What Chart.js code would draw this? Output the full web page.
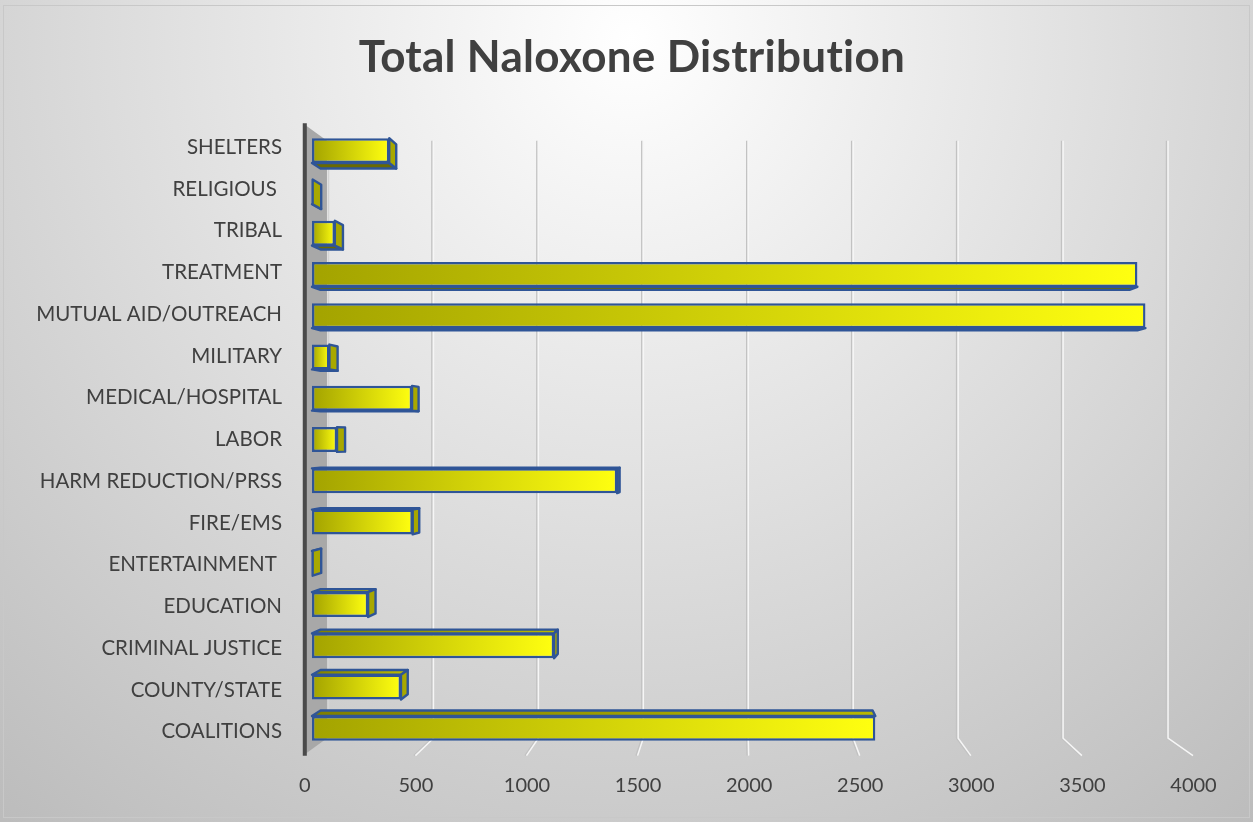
<!DOCTYPE html>
<html>
<head>
<meta charset="utf-8">
<title>Total Naloxone Distribution</title>
<script src="https://cdn.jsdelivr.net/npm/chart.js@4.4.1/dist/chart.umd.min.js"></script>
<style>
    html, body { margin: 0; padding: 0; background: #fff; }
    #wrap { width: 1253px; height: 822px; }
</style>
</head>
<body>
<div id="wrap"><canvas id="chart" width="1253" height="822"></canvas></div>
<script>
// ================= DATA =================
const categories = [
    "COALITIONS", "COUNTY/STATE", "CRIMINAL JUSTICE", "EDUCATION", "ENTERTAINMENT ",
    "FIRE/EMS", "HARM REDUCTION/PRSS", "LABOR", "MEDICAL/HOSPITAL", "MILITARY",
    "MUTUAL AID/OUTREACH", "TREATMENT", "TRIBAL", "RELIGIOUS ", "SHELTERS"
];
const distributed = [2590, 409, 1113, 258, 3, 463, 1403, 115, 460, 80, 3832, 3795, 105, 3, 355];
const xTicks = [0, 500, 1000, 1500, 2000, 2500, 3000, 3500, 4000];
const chartTitle = "Total Naloxone Distribution";

// ================= 3D LOOK =================
const CX = 740, CY = 440;      // vanishing centre
const FRONT = 1 / 0.979;       // bar plane -> front edge of floor
const BACK = 0.965;            // bar plane -> back wall
const BAR_DEPTH = 0.98;        // front face -> back face of a bar
const LABEL_K = 1.012;         // category labels spread a bit wider than the bars
const EDGE = "#2f5597";
const TEXT = "#404040";

const proj = (x, y, k) => [CX + (x - CX) * k, CY + (y - CY) * k];

function poly(ctx, pts, fill, stroke) {
    ctx.beginPath();
    ctx.moveTo(pts[0][0], pts[0][1]);
    pts.slice(1).forEach(p => ctx.lineTo(p[0], p[1]));
    ctx.closePath();
    if (fill) { ctx.fillStyle = fill; ctx.fill(); }
    if (stroke) { ctx.strokeStyle = stroke; ctx.lineWidth = 2.4; ctx.lineJoin = "round"; ctx.stroke(); }
}

const backgroundPlugin = {
    id: "bg",
    beforeDraw(chart) {
        const ctx = chart.ctx;
        const g = ctx.createRadialGradient(630, 40, 0, 630, 40, 1000);
        g.addColorStop(0, "#ffffff");
        g.addColorStop(1, "#bcbcbc");
        ctx.save();
        ctx.fillStyle = g;
        ctx.fillRect(0, 0, chart.width, chart.height);
        ctx.strokeStyle = "#c8c8c8";
        ctx.lineWidth = 1;
        ctx.strokeRect(3.5, 5.5, chart.width - 7, chart.height - 10);
        ctx.restore();
    }
};

const boxPlugin = {
    id: "box3d",
    beforeDatasetsDraw(chart) {
        const ctx = chart.ctx;
        const { left, top, bottom } = chart.chartArea;
        const xs = chart.scales.x;
        ctx.save();

        // gridlines: back wall + floor
        xTicks.forEach(v => {
            if (v === 0) return;
            const x = xs.getPixelForValue(v);
            const a = proj(x, top, BACK), b = proj(x, bottom, BACK), c = proj(x, bottom, FRONT);
            [["#c2c2c2", 0], ["#f6f6f6", 1.5]].forEach(([col, off]) => {
                ctx.beginPath();
                ctx.moveTo(a[0] + off, a[1]);
                ctx.lineTo(b[0] + off, b[1]);
                ctx.lineTo(c[0] + off, c[1]);
                ctx.strokeStyle = col;
                ctx.lineWidth = 1.5;
                ctx.stroke();
            });
        });

        // left wall
        const ft = proj(left, top, FRONT), bt = proj(left, top, BACK);
        const bb = proj(left, bottom, BACK), fb = proj(left, bottom, FRONT);
        poly(ctx, [ft, bt, bb, fb], "#a8a8a8");
        ctx.beginPath();
        ctx.moveTo(bt[0] + 1.5, bt[1]);
        ctx.lineTo(bb[0] + 1.5, bb[1]);
        ctx.strokeStyle = "#d4d4d4";
        ctx.lineWidth = 1.5;
        ctx.stroke();
        ctx.beginPath();
        ctx.moveTo(ft[0] + 2, ft[1]);
        ctx.lineTo(fb[0] + 2, fb[1]);
        ctx.strokeStyle = "#4a4a4a";
        ctx.lineWidth = 4;
        ctx.stroke();

        // bar side faces (front face is drawn by Chart.js)
        const meta = chart.getDatasetMeta(0);
        meta.data.forEach(el => {
            const { x, y, base, height } = el.getProps(["x", "y", "base", "height"], true);
            const x0 = base, x1 = x, y0 = y - height / 2, y1 = y + height / 2;
            const B = (px, py) => proj(px, py, BAR_DEPTH);
            if (y1 < CY) {
                poly(ctx, [[x0, y1], [x1, y1], B(x1, y1), B(x0, y1)], "#6a6a00", EDGE);
            }
            if (y0 > CY) {
                const g = ctx.createLinearGradient(x0, 0, x1, 0);
                g.addColorStop(0, "#7f7f00");
                g.addColorStop(1, "#b8b800");
                poly(ctx, [[x0, y0], [x1, y0], B(x1, y0), B(x0, y0)], g, EDGE);
            }
            if (x1 < CX) {
                poly(ctx, [[x1, y0], [x1, y1], B(x1, y1), B(x1, y0)], "#a8a800", EDGE);
            }
        });
        ctx.restore();
    },
    afterDraw(chart) {
        const ctx = chart.ctx;
        const { left, bottom } = chart.chartArea;
        const xs = chart.scales.x;
        const ys = chart.scales.y;
        ctx.save();
        ctx.fillStyle = TEXT;

        // title
        ctx.font = "bold 44px Lato";
        ctx.letterSpacing = "0.3px";
        ctx.textAlign = "center";
        ctx.textBaseline = "alphabetic";
        ctx.fillText(chartTitle, 632, 72);
        ctx.letterSpacing = "0px";

        // value labels sit on the front edge of the floor
        ctx.font = "20px Lato";
        ctx.textBaseline = "middle";
        xTicks.forEach(v => {
            const p = proj(xs.getPixelForValue(v), bottom, FRONT);
            ctx.fillText(String(v), p[0] + 2, 786);
        });

        // category labels
        ctx.font = "20.5px Lato";
        ctx.textAlign = "right";
        categories.forEach((c, i) => {
            const p = proj(left, ys.getPixelForValue(i), LABEL_K);
            ctx.fillText(c, 282, p[1]);
        });
        ctx.restore();
    }
};

// ================= CHART =================
function frontFill(context) {
    const chart = context.chart;
    const area = chart.chartArea;
    if (!area) return "#ffff00";
    const xs = chart.scales.x;
    const x0 = xs.getPixelForValue(0);
    const x1 = xs.getPixelForValue(context.raw);
    const g = chart.ctx.createLinearGradient(x0, 0, Math.max(x1, x0 + 1), 0);
    g.addColorStop(0, "#a3a300");
    g.addColorStop(1, "#ffff10");
    return g;
}

new Chart(document.getElementById("chart"), {
    type: "bar",
    data: {
        labels: categories,
        datasets: [{
            label: "Total",
            data: distributed,
            backgroundColor: frontFill,
            borderColor: EDGE,
            borderWidth: 2.4,
            borderSkipped: false,
            barPercentage: 0.6,
            categoryPercentage: 1
        }]
    },
    plugins: [backgroundPlugin, boxPlugin],
    options: {
        indexAxis: "y",
        responsive: false,
        animation: false,
        layout: { padding: { left: 0, right: 71, top: 130, bottom: 0 } },
        plugins: {
            legend: { display: false },
            tooltip: { enabled: false },
            title: { display: false }
        },
        scales: {
            x: {
                min: 0,
                max: 4000,
                ticks: { display: false, stepSize: 500 },
                grid: { display: false, drawTicks: false },
                border: { display: false },
                afterFit: s => { s.height = 73; }
            },
            y: {
                reverse: true,
                ticks: { display: false },
                grid: { display: false, drawTicks: false },
                border: { display: false },
                afterFit: s => { s.width = 312; }
            }
        }
    }
});
</script>
</body>
</html>
